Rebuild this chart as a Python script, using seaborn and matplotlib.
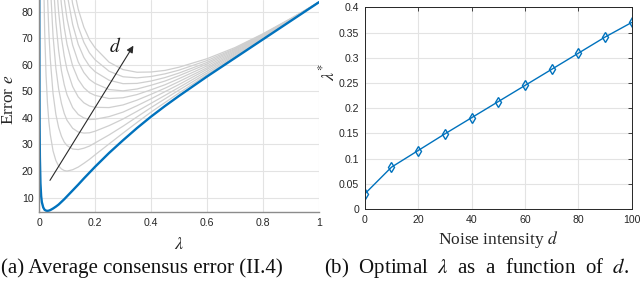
import numpy as np
import pandas as pd
import matplotlib
matplotlib.use("Agg")
import matplotlib.pyplot as plt
import seaborn as sns

# ---------------- data ----------------
lam_grid = [0.015, 0.02, 0.025, 0.03, 0.035, 0.04, 0.05, 0.06, 0.07, 0.08, 0.09, 0.1,
            0.12, 0.14, 0.16, 0.18, 0.2, 0.25, 0.3, 0.35, 0.4, 0.45, 0.5, 0.6, 0.7,
            0.8, 0.9, 1.0]

gray_d10 = [102.2, 73.0, 56.2, 45.7, 38.7, 33.9, 27.6, 24.0, 21.9, 20.8, 20.2, 20.0, 20.5, 21.5, 22.9, 24.4, 26.1, 30.2, 34.3, 38.3, 42.2, 45.8, 49.4, 56.3, 63.0, 69.8, 76.7, 83.6]
gray_d20 = [198.1, 140.6, 107.3, 86.5, 72.4, 62.4, 49.2, 41.4, 36.4, 33.1, 30.9, 29.6, 28.3, 28.1, 28.6, 29.4, 30.6, 33.6, 36.9, 40.4, 43.9, 47.2, 50.5, 56.9, 63.4, 70.0, 76.8, 83.6]
gray_d30 = [293.9, 208.3, 158.4, 127.2, 106.0, 91.0, 70.9, 58.8, 50.9, 45.5, 41.7, 39.1, 36.1, 34.7, 34.3, 34.4, 35.0, 37.1, 39.6, 42.5, 45.5, 48.5, 51.5, 57.6, 63.8, 70.2, 76.9, 83.6]
gray_d40 = [389.8, 275.9, 209.5, 168.0, 139.7, 119.5, 92.5, 76.2, 65.4, 57.8, 52.5, 48.7, 43.9, 41.3, 40.0, 39.4, 39.5, 40.5, 42.2, 44.6, 47.2, 49.9, 52.6, 58.3, 64.2, 70.5, 77.0, 83.6]
gray_d50 = [485.7, 343.5, 260.6, 208.7, 173.3, 148.1, 114.2, 93.6, 79.9, 70.2, 63.3, 58.2, 51.8, 47.9, 45.7, 44.5, 44.0, 43.9, 44.9, 46.7, 48.9, 51.2, 53.7, 58.9, 64.6, 70.7, 77.0, 83.6]
gray_d60 = [581.6, 411.1, 311.6, 249.4, 206.9, 176.7, 135.9, 110.9, 94.3, 82.6, 74.0, 67.7, 59.6, 54.5, 51.4, 49.5, 48.5, 47.3, 47.6, 48.8, 50.6, 52.5, 54.8, 59.6, 65.0, 70.9, 77.1, 83.6]
gray_d70 = [677.5, 478.7, 362.7, 290.2, 240.6, 205.2, 157.5, 128.3, 108.8, 94.9, 84.8, 77.3, 67.4, 61.1, 57.1, 54.5, 53.0, 50.7, 50.2, 50.9, 52.3, 53.9, 55.9, 60.3, 65.4, 71.1, 77.2, 83.6]
gray_d80 = [773.3, 546.4, 413.8, 330.9, 274.2, 233.8, 179.2, 145.7, 123.3, 107.3, 95.6, 86.8, 75.2, 67.7, 62.8, 59.5, 57.4, 54.2, 52.9, 53.0, 53.9, 55.2, 56.9, 60.9, 65.8, 71.3, 77.3, 83.6]
gray_d90 = [869.2, 614.0, 464.9, 371.7, 307.9, 262.3, 200.8, 163.1, 137.8, 119.6, 106.3, 96.4, 83.0, 74.3, 68.5, 64.5, 61.9, 57.6, 55.5, 55.1, 55.6, 56.6, 58.0, 61.6, 66.1, 71.5, 77.4, 83.6]
gray_d100 = [965.1, 681.6, 516.0, 412.4, 341.5, 290.9, 222.5, 180.5, 152.3, 132.0, 117.1, 105.9, 90.8, 80.9, 74.2, 69.5, 66.4, 61.0, 58.2, 57.2, 57.3, 57.9, 59.1, 62.3, 66.5, 71.7, 77.5, 83.6]

blue_lam = [0.0008, 0.001, 0.0015, 0.002, 0.003, 0.005, 0.0075, 0.01] + lam_grid
blue_err = [94.0, 75.1, 50.1, 37.7, 25.2, 15.4, 10.6, 8.3,
            6.3, 5.4, 5.1, 5.0, 5.1, 5.3, 5.9, 6.6, 7.4, 8.4, 9.4, 10.5, 12.7, 14.9,
            17.2, 19.4, 21.6, 26.8, 31.6, 36.2, 40.5, 44.5, 48.3, 55.6, 62.6, 69.6,
            76.6, 83.6]

d_vals = [0, 10, 20, 30, 40, 50, 60, 70, 80, 90, 100]
lam_opt = [0.030, 0.083, 0.116, 0.149, 0.181, 0.213, 0.245, 0.277, 0.309, 0.341, 0.370]

left_xticks = [0, 0.2, 0.4, 0.6, 0.8, 1]
left_xticklabels = ["0", "0.2", "0.4", "0.6", "0.8", "1"]
left_yticks = [10, 20, 30, 40, 50, 60, 70, 80]
right_xticks = [0, 20, 40, 60, 80, 100]
right_yticks = [0, 0.05, 0.1, 0.15, 0.2, 0.25, 0.3, 0.35, 0.4]
right_yticklabels = ["0", "0.05", "0.1", "0.15", "0.2", "0.25", "0.3", "0.35", "0.4"]

caption_a = "(a) Average consensus error (II.4)"
caption_b = r"(b)  Optimal  $\lambda$  as  a  function  of  $d$."

# ---------------- style ----------------
sns.set_style("white")
plt.rcParams["font.family"] = ["Liberation Sans", "DejaVu Sans"]
plt.rcParams["mathtext.fontset"] = "stix"

BLUE = "#0072BD"
GRAY = "#cfcfcf"
GRID = "#e3e3e3"
AX = "#262626"
SERIF = ["Liberation Serif", "DejaVu Serif"]

fig = plt.figure(figsize=(6.4, 2.83), dpi=100)
ax1 = fig.add_axes([0.061, 0.251, 0.4375, 0.749])
ax2 = fig.add_axes([0.570, 0.2615, 0.417, 0.7125])

# ---------------- left panel ----------------
grays = [gray_d10, gray_d20, gray_d30, gray_d40, gray_d50,
         gray_d60, gray_d70, gray_d80, gray_d90, gray_d100]
for g in grays:
    sns.lineplot(x=lam_grid, y=g, ax=ax1, color=GRAY, lw=0.9, sort=False,
                 estimator=None)
sns.lineplot(x=blue_lam, y=blue_err, ax=ax1, color=BLUE, lw=1.7, sort=False,
             estimator=None)

ax1.set_xlim(0, 1)
ax1.set_ylim(4.6, 84.4)
ax1.set_xticks(left_xticks)
ax1.set_xticklabels(left_xticklabels)
ax1.set_yticks(left_yticks)
ax1.grid(True, color=GRID, lw=0.8)
ax1.set_axisbelow(True)
for s in ["top", "right"]:
    ax1.spines[s].set_visible(False)
for s in ["left", "bottom"]:
    ax1.spines[s].set_color("#8c8c8c")
    ax1.spines[s].set_linewidth(1.0)
ax1.tick_params(direction="in", length=3, width=0.6, colors=AX, labelsize=7.6,
                pad=4)
ax1.set_xlabel(r"$\lambda$", fontsize=13, color=AX, labelpad=6)
ax1.set_ylabel(r"Error $e$", fontsize=12.5, color=AX, family=SERIF)
ax1.yaxis.set_label_coords(-0.078, 0.53)

ax1.annotate("", xy=(0.337, 67.2), xytext=(0.039, 16.5),
             arrowprops=dict(arrowstyle="-|>", color="#2a2a2a", lw=0.8,
                             mutation_scale=10, shrinkA=0, shrinkB=0))
ax1.text(0.272, 67.0, r"$d$", fontsize=14, color="#1a1a1a",
         ha="center", va="center")

# ---------------- right panel ----------------
sns.lineplot(x=d_vals, y=lam_opt, ax=ax2, color=BLUE, lw=1.0, marker="d",
             markersize=5.5, markerfacecolor="none", markeredgecolor=BLUE,
             markeredgewidth=1.0, sort=False, estimator=None)
ax2.set_xlim(0, 100)
ax2.set_ylim(0, 0.4)
ax2.set_xticks(right_xticks)
ax2.set_yticks(right_yticks)
ax2.set_yticklabels(right_yticklabels)
ax2.grid(True, color=GRID, lw=0.8)
ax2.set_axisbelow(True)
for s in ax2.spines.values():
    s.set_color(AX)
    s.set_linewidth(0.7)
ax2.tick_params(direction="in", length=3, width=0.6, colors=AX, labelsize=7.6,
                pad=4, top=True, right=True)
ax2.tick_params(labeltop=False, labelright=False)
ax2.set_xlabel(r"Noise intensity $d$", fontsize=12.5, color=AX, family=SERIF,
               labelpad=3)
ax2.set_ylabel(r"$\lambda^{*}$", fontsize=13, color=AX)
ax2.yaxis.set_label_coords(-0.10, 0.68)

# ---------------- captions ----------------
fig.text(0.221, 0.052, caption_a, ha="center", va="center", fontsize=15,
         family=SERIF, color="#111111")
fig.text(0.745, 0.052, caption_b, ha="center", va="center", fontsize=15,
         family=SERIF, color="#111111")

fig.savefig("out.png", dpi=100)
